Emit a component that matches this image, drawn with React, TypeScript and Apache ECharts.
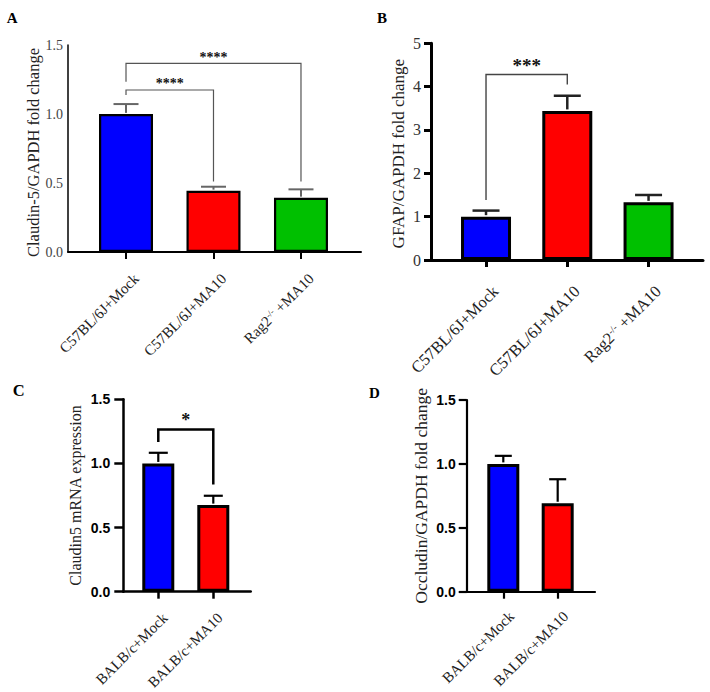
import React, { useEffect, useRef } from 'react';
import * as echarts from 'echarts';

const SERIF = '"Liberation Serif", "Times New Roman", serif';
const SANS = '"Liberation Sans", Arial, sans-serif';

// ---------- data ----------
const catsAB = ['C57BL/6J+Mock', 'C57BL/6J+MA10', 'Rag2-/- +MA10'];
const catsCD = ['BALB/c+Mock', 'BALB/c+MA10'];

const valuesA = [1.0, 0.444, 0.393];
const errA = [0.072, 0.029, 0.061];
const valuesB = [1.0, 3.44, 1.33];
const errB = [0.14, 0.35, 0.17];
const valuesC = [1.0, 0.675];
const errC = [0.083, 0.073];
const valuesD = [1.0, 0.692];
const errD = [0.063, 0.188];

// [from, to, top, leftEnd, rightEnd]
const bracketsA = [
  [0, 1, 1.174, 1.138, 0.51],
  [0, 2, 1.367, 1.234, 0.51],
];
const bracketLabelsA = ['****', '****'];
const bracketsB = [[0, 1, 4.28, 1.385, 4.05]];
const bracketLabelsB = ['***'];
const bracketsC = [[0, 1, 1.265, 1.168, 0.836]];
const bracketLabelsC = ['*'];

const yMaxA = 1.5, yStepA = 0.5;
const yMaxB = 5, yStepB = 1;
const yMaxC = 1.5, yStepC = 0.5;
const yMaxD = 1.5, yStepD = 0.5;

const barColors = ['#0000FF', '#FF0000', '#00C000'];

type PanelCfg = any;

function buildPanel(i: number, c: PanelCfg) {
  const ticks = c.cats.map((_: string, k: number) => k);
  const grid = { ...c.grid, containLabel: false, outerBoundsMode: 'none' };
  const xAxis = {
    type: 'value',
    gridIndex: i,
    min: c.xMin,
    max: c.xMax,
    splitLine: { show: false },
    axisLine: { show: true, onZero: false, lineStyle: { color: '#000', width: c.xAxisWidth } },
    axisTick: { show: true, customValues: ticks, length: 7, lineStyle: { color: '#000', width: c.xAxisWidth } },
    axisLabel: {
      customValues: ticks,
      formatter: (v: number) => c.cats[Math.round(v)].replace('-/-', '{sup|-/-}'),
      rotate: 45,
      verticalAlign: 'top',
      padding: [c.xLabel.pad, 0, 0, 0],
      margin: c.xLabel.margin,
      fontFamily: SERIF,
      fontSize: c.xLabel.fontSize,
      color: '#222',
      rich: {
        sup: { fontFamily: SERIF, fontSize: Math.round(c.xLabel.fontSize * 0.6), color: '#222', verticalAlign: 'top' },
      },
    },
  };
  const yAxis = {
    type: 'value',
    gridIndex: i,
    min: 0,
    max: c.yMax,
    interval: c.yStep,
    name: c.yName,
    nameLocation: 'middle',
    nameGap: c.nameGap,
    nameTextStyle: { fontFamily: SERIF, fontSize: c.nameFont, color: '#222', padding: [0, c.nameShift, 0, 0] },
    splitLine: { show: false },
    axisLine: { show: true, onZero: false, lineStyle: { color: '#000', width: c.axisWidth } },
    axisTick: { show: c.yTick, length: c.yTickLen, lineStyle: { color: '#000', width: c.axisWidth } },
    axisLabel: {
      formatter: (v: number) => v.toFixed(c.tickLabel.digits),
      fontFamily: c.tickLabel.fontFamily,
      fontSize: c.tickLabel.fontSize,
      fontWeight: c.tickLabel.fontWeight,
      color: c.tickLabel.color,
      margin: c.tickLabel.margin,
    },
  };
  const series: any[] = [
    {
      type: 'bar',
      xAxisIndex: i,
      yAxisIndex: i,
      barWidth: c.barWidth,
      data: c.values.map((v: number, k: number) => ({
        value: [k, v],
        itemStyle: { color: barColors[k], borderColor: '#000', borderWidth: c.borderWidth },
      })),
    },
    {
      type: 'custom',
      xAxisIndex: i,
      yAxisIndex: i,
      z: 3,
      data: c.values.map((v: number, k: number) => [k, v, c.err[k]]),
      renderItem: (params: any, api: any) => {
        const x = api.value(0), v = api.value(1), e = api.value(2);
        const p0 = api.coord([x, v]);
        const p1 = api.coord([x, v + e]);
        const st = { stroke: c.errColor, lineWidth: c.errWidth };
        return {
          type: 'group',
          children: [
            { type: 'line', shape: { x1: p0[0], y1: p0[1] - c.borderWidth / 2, x2: p1[0], y2: p1[1] }, style: st },
            { type: 'line', shape: { x1: p1[0] - c.cap, y1: p1[1], x2: p1[0] + c.cap, y2: p1[1] }, style: st },
          ],
        };
      },
    },
  ];
  if (c.brackets.length) {
    series.push({
      type: 'custom',
      xAxisIndex: i,
      yAxisIndex: i,
      z: 4,
      data: c.brackets,
      renderItem: (params: any, api: any) => {
        const x1 = api.value(0), x2 = api.value(1), top = api.value(2), l = api.value(3), r = api.value(4);
        const a = api.coord([x1, top]);
        const b = api.coord([x2, top]);
        const la = api.coord([x1, l]);
        const rb = api.coord([x2, r]);
        return {
          type: 'group',
          children: [
            { type: 'polyline', shape: { points: [la, a, b, rb] }, style: { stroke: c.brColor, lineWidth: c.brWidth, fill: 'none' } },
            {
              type: 'text',
              x: (a[0] + b[0]) / 2,
              y: a[1] - c.starOff,
              style: {
                text: c.bracketLabels[params.dataIndex],
                fontFamily: SERIF, fontWeight: 'bold', fontSize: c.starSize, fill: '#111',
                align: 'center', verticalAlign: 'middle',
              },
            },
          ],
        };
      },
    });
  }
  return { grid, xAxis, yAxis, series };
}

const panels: PanelCfg[] = [
  {
    cats: catsAB, values: valuesA, err: errA, brackets: bracketsA, bracketLabels: bracketLabelsA,
    yMax: yMaxA, yStep: yStepA, yName: 'Claudin-5/GAPDH fold change',
    grid: { left: 68, top: 45, width: 293, height: 207 },
    xMin: -0.663, xMax: 2.686, barWidth: 54, borderWidth: 2.2, axisWidth: 1.5, xAxisWidth: 2,
    yTick: false, yTickLen: 0,
    tickLabel: { fontFamily: SERIF, fontSize: 14, color: '#444', fontWeight: 'normal', margin: 5, digits: 1 },
    nameFont: 16.5, nameGap: 25, nameShift: 8,
    xLabel: { fontSize: 15, margin: 14, pad: 7 },
    errColor: '#666', errWidth: 2, cap: 12.5, brColor: '#555', brWidth: 1.2, starSize: 14, starOff: 6,
  },
  {
    cats: catsAB, values: valuesB, err: errB, brackets: bracketsB, bracketLabels: bracketLabelsB,
    yMax: yMaxB, yStep: yStepB, yName: 'GFAP/GAPDH fold change',
    grid: { left: 431, top: 43.3, width: 272, height: 216.7 },
    xMin: -0.677, xMax: 2.67, barWidth: 50, borderWidth: 3, axisWidth: 3, xAxisWidth: 3,
    yTick: true, yTickLen: 7,
    tickLabel: { fontFamily: SERIF, fontSize: 16, color: '#333', fontWeight: 'normal', margin: 10, digits: 0 },
    nameFont: 17, nameGap: 24, nameShift: 4,
    xLabel: { fontSize: 16.5, margin: 19, pad: 5 },
    errColor: '#222', errWidth: 2.5, cap: 13.5, brColor: '#444', brWidth: 1.4, starSize: 19, starOff: 8.7,
  },
  {
    cats: catsCD, values: valuesC, err: errC, brackets: bracketsC, bracketLabels: bracketLabelsC,
    yMax: yMaxC, yStep: yStepC, yName: 'Claudin5 mRNA expression',
    grid: { left: 123.3, top: 399.3, width: 127.4, height: 192.4 },
    xMin: -0.636, xMax: 1.68, barWidth: 32, borderWidth: 3, axisWidth: 2.5, xAxisWidth: 2.5,
    yTick: true, yTickLen: 9,
    tickLabel: { fontFamily: SANS, fontSize: 14, color: '#000', fontWeight: 'bold', margin: 13, digits: 1 },
    nameFont: 16, nameGap: 40, nameShift: 0,
    xLabel: { fontSize: 15, margin: 17, pad: 2 },
    errColor: '#000', errWidth: 2.2, cap: 9.5, brColor: '#000', brWidth: 2.5, starSize: 18, starOff: 9,
  },
  {
    cats: catsCD, values: valuesD, err: errD, brackets: [], bracketLabels: [],
    yMax: yMaxD, yStep: yStepD, yName: 'Occludin/GAPDH fold change',
    grid: { left: 466.7, top: 400, width: 128.3, height: 191.7 },
    xMin: -0.673, xMax: 1.686, barWidth: 32, borderWidth: 3, axisWidth: 2.2, xAxisWidth: 2.2,
    yTick: true, yTickLen: 8,
    tickLabel: { fontFamily: SANS, fontSize: 14, color: '#000', fontWeight: 'bold', margin: 11, digits: 1 },
    nameFont: 17.5, nameGap: 37, nameShift: 0,
    xLabel: { fontSize: 15, margin: 14, pad: 4 },
    errColor: '#000', errWidth: 2.2, cap: 8.5, brColor: '#000', brWidth: 2.5, starSize: 18, starOff: 9,
  },
];

const panelLetters = [
  { t: 'A', x: 12.2, y: 18.3, s: 15 },
  { t: 'B', x: 382, y: 18, s: 15 },
  { t: 'C', x: 18.8, y: 390.5, s: 16.5 },
  { t: 'D', x: 374.5, y: 393.3, s: 15 },
];

export default function App() {
  const ref = useRef<HTMLDivElement>(null);
  useEffect(() => {
    if (!ref.current) return;
    const chart = echarts.init(ref.current, undefined, { renderer: 'svg' });
    const built = panels.map((p, i) => buildPanel(i, p));
    const option: any = {
      animation: false,
      backgroundColor: '#fff',
      grid: built.map((b) => b.grid),
      xAxis: built.map((b) => b.xAxis),
      yAxis: built.map((b) => b.yAxis),
      series: built.flatMap((b) => b.series),
      graphic: panelLetters.map((l) => ({
        type: 'text', x: l.x, y: l.y,
        style: { text: l.t, fontFamily: SERIF, fontWeight: 'bold', fontSize: l.s, fill: '#000', align: 'center', verticalAlign: 'middle' },
      })),
    };
    chart.setOption(option);
    return () => chart.dispose();
  }, []);
  return (
    <div ref={ref} style={{ position: 'fixed', left: 0, top: 0, width: 710, height: 692, background: '#fff' }} />
  );
}
